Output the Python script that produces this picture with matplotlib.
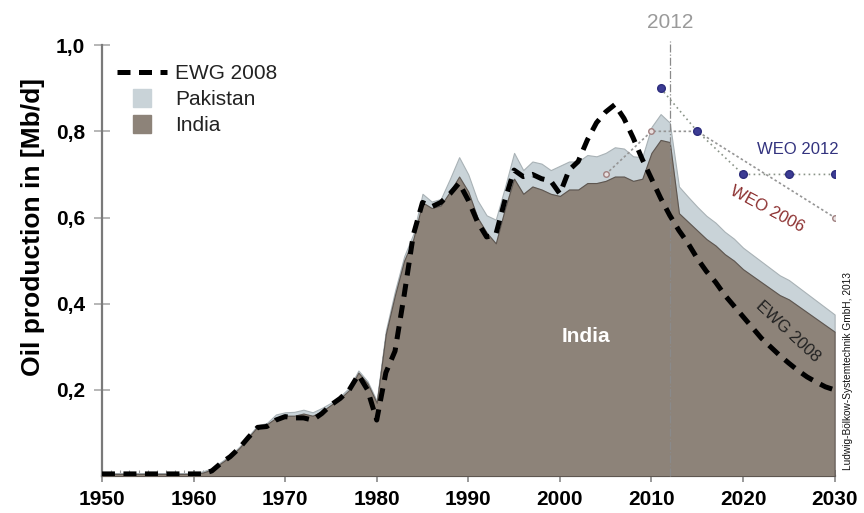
import numpy as np
import matplotlib.pyplot as plt
from matplotlib.lines import Line2D

plt.rcParams['font.family'] = ['Liberation Sans', 'DejaVu Sans']

# Oil production (Mb/d), yearly 1950-2030
years = np.arange(1950, 2031)

india = [0.005] * 11 + [
    0.008, 0.015, 0.03, 0.045, 0.065, 0.09, 0.115, 0.12, 0.135,   # 1961-1969
    0.14, 0.14, 0.145, 0.14, 0.15, 0.165, 0.18, 0.2, 0.24, 0.215,  # 1970-1979
    0.17, 0.33, 0.42, 0.5, 0.55, 0.635, 0.622, 0.628, 0.66, 0.695,  # 1980-1989
    0.66, 0.6, 0.565, 0.54, 0.62, 0.69, 0.655, 0.672, 0.665, 0.655,  # 1990-1999
    0.65, 0.665, 0.665, 0.68, 0.68, 0.685, 0.695, 0.695, 0.685, 0.69,  # 2000-2009
    0.75, 0.78, 0.775, 0.61, 0.59, 0.57, 0.55, 0.535, 0.515, 0.50,  # 2010-2019
    0.48, 0.465, 0.45, 0.435, 0.42, 0.41, 0.395, 0.38, 0.365, 0.35,  # 2020-2029
    0.335]

pakistan = [0.002] * 11 + [
    0.003, 0.003, 0.003, 0.003, 0.003, 0.003, 0.003, 0.003, 0.008,
    0.008, 0.009, 0.009, 0.008, 0.008, 0.005, 0.005, 0.005, 0.005, 0.005,
    0.005, 0.008, 0.01, 0.01, 0.012, 0.02, 0.015, 0.015, 0.03, 0.045,
    0.04, 0.04, 0.04, 0.055, 0.05, 0.06, 0.055, 0.058, 0.06, 0.055,
    0.07, 0.065, 0.065, 0.065, 0.062, 0.065, 0.068, 0.065, 0.057, 0.05,
    0.06, 0.06, 0.045, 0.062, 0.058, 0.055, 0.054, 0.053, 0.052, 0.051,
    0.05, 0.049, 0.048, 0.047, 0.046, 0.045, 0.044, 0.043, 0.042, 0.041,
    0.04]

ewg_2008 = [0.005] * 12 + [
    0.012, 0.03, 0.045, 0.065, 0.09, 0.113, 0.115, 0.13,           # 1962-1969
    0.138, 0.135, 0.135, 0.13, 0.145, 0.165, 0.18, 0.2, 0.235, 0.2,  # 1970-1979
    0.13, 0.24, 0.29, 0.42, 0.56, 0.635, 0.625, 0.635, 0.655, 0.68,  # 1980-1989
    0.64, 0.59, 0.555, 0.56, 0.64, 0.71, 0.695, 0.70, 0.69, 0.685,  # 1990-1999
    0.655, 0.71, 0.73, 0.78, 0.82, 0.845, 0.862, 0.83, 0.785, 0.735,  # 2000-2009
    0.69, 0.645, 0.605, 0.57, 0.54, 0.505, 0.475, 0.45, 0.42, 0.395,  # 2010-2019
    0.37, 0.345, 0.32, 0.30, 0.28, 0.262, 0.245, 0.23, 0.218, 0.207,  # 2020-2029
    0.20]

weo2012_years = [2011, 2015, 2020, 2025, 2030]
weo2012_vals = [0.90, 0.80, 0.70, 0.70, 0.70]
weo2006_years = [2005, 2010, 2015, 2030]
weo2006_vals = [0.70, 0.80, 0.80, 0.60]

india = np.array(india)
top = india + np.array(pakistan)

col_india = '#8d8379'
col_pak = '#c9d3d8'

fig = plt.figure(figsize=(8.64, 5.13), dpi=100)
ax = fig.add_axes([0.118, 0.072, 0.848, 0.840])

ax.fill_between(years, india, top, color=col_pak, lw=0.8, edgecolor='#a9b2b6', zorder=2)
ax.fill_between(years, 0, india, color=col_india, lw=0.8, edgecolor='#5e5650', zorder=3)

ax.plot(years, ewg_2008, color='black', lw=3.6, ls=(0, (2.6, 1.7)), zorder=6)

# 2012 marker line
ax.axvline(2012, ymin=0, ymax=1.01, color='#8a8a8a', lw=0.9, ls='-.', zorder=4, clip_on=False)
ax.text(2012, 1.03, '2012', ha='center', va='bottom', fontsize=15, color='#9a9a9a')

# WEO scenarios
ax.plot(weo2006_years, weo2006_vals, color='#959595', lw=1.2, ls=(0, (1.5, 1.5)),
        marker='o', ms=4, mfc='#e8e0e0', mec='#a08080', markevery=[0, 1, 3], zorder=7)
ax.plot(weo2012_years, weo2012_vals, color='#8a9488', lw=1.2, ls=(0, (1, 2)),
        marker='o', ms=5.5, mfc='#3c3c94', mec='#2c2c7c', zorder=8)

ax.text(2021.5, 0.758, 'WEO 2012', fontsize=12, color='#33337f', ha='left', va='center')
ax.text(2022.6, 0.62, 'WEO 2006', fontsize=12, color='#8c2f2f', ha='center', va='center',
        rotation=-28)
ax.text(2024.9, 0.335, 'EWG 2008', fontsize=12, color='#222222', ha='center', va='center',
        rotation=-43)
ax.text(2002.8, 0.325, 'India', fontsize=15, fontweight='bold', color='white',
        ha='center', va='center', zorder=9)
ax.text(1.012, 0.015, 'Ludwig-Bölkow-Systemtechnik GmbH, 2013', transform=ax.transAxes,
        rotation=90, fontsize=7.3, ha='left', va='bottom', color='#111111')

ax.set_xlim(1950, 2030)
ax.set_ylim(0, 1.0)
ax.set_xticks(np.arange(1950, 2031, 10))
ax.set_xticks(np.arange(1950, 2031, 1), minor=True)
ax.set_yticks([0.2, 0.4, 0.6, 0.8, 1.0])
ax.set_yticklabels(['0,2', '0,4', '0,6', '0,8', '1,0'])
for lab in ax.get_xticklabels() + ax.get_yticklabels():
    lab.set_fontweight('bold')
ax.tick_params(axis='x', which='major', direction='inout', length=8, width=1.2,
               color='#888888', labelsize=15, pad=6)
ax.tick_params(axis='x', which='minor', direction='in', length=4, width=0.8, color='#999999')
ax.tick_params(axis='y', which='major', direction='inout', length=12, width=1.2,
               color='#aaaaaa', labelsize=15, pad=6)

for s in ['top', 'right']:
    ax.spines[s].set_visible(False)
for s in ['left', 'bottom']:
    ax.spines[s].set_color('#7a7a7a')
    ax.spines[s].set_linewidth(1.6)

ax.set_ylabel('Oil production in [Mb/d]', fontsize=19, fontweight='bold')
ax.yaxis.set_label_coords(-0.078, 0.578)

handles = [
    Line2D([], [], color='black', lw=3.6, ls=(0, (2.6, 1.7))),
    Line2D([], [], color=col_pak, marker='s', ms=13, ls='none'),
    Line2D([], [], color=col_india, marker='s', ms=13, ls='none'),
]
leg = ax.legend(handles, ['EWG 2008', 'Pakistan', 'India'], loc='upper left',
                bbox_to_anchor=(-0.005, 1.0), frameon=False, fontsize=15,
                handlelength=2.4, labelspacing=0.35, handletextpad=0.4)
for t in leg.get_texts():
    t.set_color('#222222')

fig.savefig('out.png', dpi=100)
